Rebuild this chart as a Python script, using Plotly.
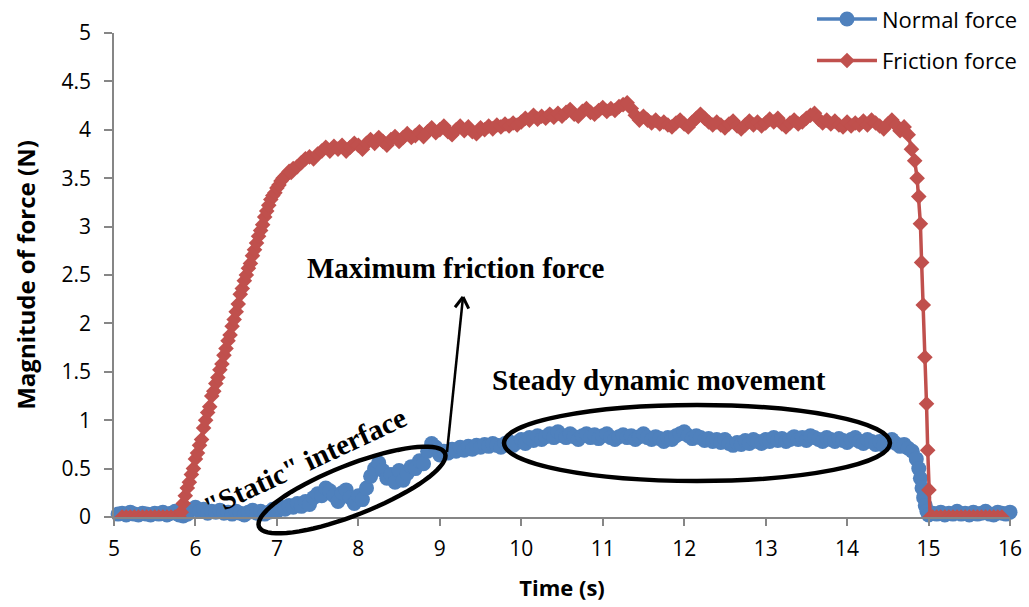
import numpy as np
import plotly.graph_objects as go

# ---------------- data ----------------
# Friction force (N)
fric_idle_start = 5.10          # flat segment before loading, 0.05 s steps
fric_idle = [0.00, 0.00, 0.00, 0.00, 0.00, 0.00, 0.00,
             0.00, 0.00, 0.00, 0.00, 0.00, 0.00, 0.00]

fric_rise_start = 5.80          # loading ramp, 0.025 s steps
fric_rise = [0.00, 0.05, 0.14, 0.22, 0.30, 0.36, 0.44, 0.50,
             0.60, 0.66, 0.74, 0.80, 0.92, 1.00, 1.08, 1.14,
             1.25, 1.30, 1.38, 1.44, 1.52, 1.58, 1.67, 1.74,
             1.82, 1.88, 1.97, 2.04, 2.12, 2.20, 2.30, 2.36,
             2.44, 2.50, 2.57, 2.62, 2.70, 2.76, 2.83, 2.90,
             2.96, 3.02, 3.10, 3.16, 3.22, 3.28, 3.32, 3.35,
             3.40, 3.43, 3.47, 3.50, 3.52, 3.54, 3.57, 3.56, 3.60]

fric_slide_start = 7.25         # sliding plateau, 0.05 s steps
fric_slide = [
    # 7.25 - 7.95
    3.62, 3.66, 3.70, 3.72, 3.70, 3.75, 3.78, 3.82, 3.78, 3.83, 3.80, 3.84, 3.78, 3.82, 3.86,
    # 8.00 - 8.95
    3.84, 3.80, 3.86, 3.90, 3.86, 3.92, 3.88, 3.84, 3.90, 3.93,
    3.88, 3.92, 3.96, 3.92, 3.94, 3.98, 3.93, 3.98, 4.02, 3.97,
    # 9.00 - 9.95
    4.00, 4.04, 3.98, 3.95, 4.00, 4.04, 3.99, 4.03, 3.98, 3.96,
    4.02, 4.00, 4.04, 4.01, 4.05, 4.03, 4.06, 4.04, 4.07, 4.05,
    # 10.00 - 10.95
    4.08, 4.12, 4.10, 4.15, 4.11, 4.14, 4.12, 4.16, 4.13, 4.17,
    4.14, 4.18, 4.21, 4.16, 4.14, 4.19, 4.22, 4.18, 4.16, 4.20,
    # 11.00 - 11.95
    4.23, 4.19, 4.22, 4.20, 4.24, 4.26, 4.28, 4.22, 4.15, 4.10,
    4.14, 4.10, 4.07, 4.10, 4.06, 4.08, 4.05, 4.03, 4.07, 4.10,
    # 12.00 - 12.95
    4.06, 4.03, 4.08, 4.12, 4.16, 4.12, 4.08, 4.05, 4.08, 4.05,
    4.02, 4.06, 4.09, 4.04, 4.01, 4.05, 4.09, 4.05, 4.08, 4.04,
    # 13.00 - 13.95
    4.07, 4.11, 4.08, 4.12, 4.06, 4.03, 4.07, 4.10, 4.06, 4.08,
    4.12, 4.15, 4.17, 4.11, 4.07, 4.10, 4.06, 4.09, 4.05, 4.03,
    # 14.00 - 14.75
    4.08, 4.04, 4.07, 4.05, 4.09, 4.05, 4.10, 4.07, 4.04, 4.01,
    4.06, 4.10, 4.05, 3.99, 4.03, 3.95,
]

fric_drop_t = [14.79, 14.83, 14.86, 14.88, 14.90, 14.915,
               14.935, 14.955, 14.975, 14.99, 15.005, 15.02]
fric_drop = [3.80, 3.68, 3.50, 3.31, 3.03, 2.63,
             2.19, 1.65, 1.17, 0.69, 0.28, 0.00]

fric_rest_start = 15.05         # unloaded, 0.05 s steps
fric_rest = [0.00, 0.00, 0.00, 0.00, 0.00, 0.00, 0.00, 0.00, 0.00,
             0.00, 0.00, 0.00, 0.00, 0.00, 0.00, 0.00, 0.00, 0.00]

# Normal force (N)
norm_main_start = 5.05          # 0.05 s steps
norm_main = [
    # 5.05 - 5.95
    0.03, 0.04, 0.02, 0.05, 0.03, 0.02, 0.04, 0.03, 0.02, 0.04,
    0.03, 0.05, 0.02, 0.04, 0.06, 0.02, 0.01, 0.03, 0.08,
    # 6.00 - 6.95
    0.10, 0.06, 0.08, 0.04, 0.06, 0.05, 0.07, 0.04, 0.05, 0.03,
    0.06, 0.04, 0.02, 0.05, 0.07, 0.04, 0.06, 0.03, 0.05, 0.08,
    # 7.00 - 7.95
    0.06, 0.10, 0.08, 0.12, 0.10, 0.14, 0.11, 0.16, 0.13, 0.20,
    0.24, 0.22, 0.30, 0.27, 0.22, 0.16, 0.25, 0.28, 0.20, 0.14,
    # 8.00 - 8.95
    0.22, 0.18, 0.30, 0.42, 0.50, 0.56, 0.48, 0.40, 0.44, 0.36,
    0.48, 0.38, 0.45, 0.52, 0.50, 0.58, 0.55, 0.68, 0.76, 0.72,
    # 9.00 - 9.95
    0.64, 0.68, 0.66, 0.70, 0.68, 0.72, 0.69, 0.73, 0.70, 0.74,
    0.72, 0.75, 0.73, 0.76, 0.74, 0.72, 0.76, 0.78, 0.74, 0.77,
    # 10.00 - 10.95
    0.80, 0.76, 0.82, 0.79, 0.84, 0.80, 0.83, 0.86, 0.82, 0.88,
    0.84, 0.82, 0.86, 0.83, 0.80, 0.84, 0.86, 0.82, 0.85, 0.81,
    # 11.00 - 11.95
    0.84, 0.86, 0.82, 0.80, 0.83, 0.85, 0.82, 0.84, 0.80, 0.83,
    0.86, 0.82, 0.80, 0.83, 0.81, 0.78, 0.82, 0.80, 0.84, 0.86,
    # 12.00 - 12.95
    0.88, 0.84, 0.81, 0.84, 0.82, 0.79, 0.81, 0.78, 0.80, 0.77,
    0.80, 0.76, 0.74, 0.77, 0.75, 0.79, 0.76, 0.80, 0.78, 0.76,
    # 13.00 - 13.95
    0.80, 0.78, 0.82, 0.79, 0.81, 0.78, 0.80, 0.83, 0.80, 0.82,
    0.79, 0.84, 0.82, 0.80, 0.78, 0.82, 0.80, 0.78, 0.81, 0.79,
    # 14.00 - 14.80
    0.77, 0.80, 0.82, 0.78, 0.76, 0.80, 0.78, 0.75, 0.78, 0.74,
    0.77, 0.80, 0.76, 0.73, 0.75, 0.71, 0.68,
]

norm_drop_t = [14.85, 14.88, 14.90, 14.92, 14.94, 14.96, 14.98, 15.00]
norm_drop = [0.60, 0.50, 0.40, 0.30, 0.20, 0.12, 0.06, 0.02]

norm_rest_start = 15.05
norm_rest = [0.04, 0.03, 0.05, 0.02, 0.04, 0.03, 0.06, 0.03, 0.04, 0.02,
             0.05, 0.03, 0.04, 0.06, 0.03, 0.02, 0.05, 0.04, 0.03, 0.05]

x_ticks = [5, 6, 7, 8, 9, 10, 11, 12, 13, 14, 15, 16]
y_ticks = [0, 0.5, 1, 1.5, 2, 2.5, 3, 3.5, 4, 4.5, 5]


def sampled(start, step, values):
    return list(np.round(start + step * np.arange(len(values)), 4))


fric_t = (sampled(fric_idle_start, 0.05, fric_idle)
          + sampled(fric_rise_start, 0.025, fric_rise)
          + sampled(fric_slide_start, 0.05, fric_slide)
          + fric_drop_t
          + sampled(fric_rest_start, 0.05, fric_rest))
fric_y = fric_idle + fric_rise + fric_slide + fric_drop + fric_rest

norm_t = (sampled(norm_main_start, 0.05, norm_main)
          + norm_drop_t
          + sampled(norm_rest_start, 0.05, norm_rest))
norm_y = norm_main + norm_drop + norm_rest

# ---------------- figure ----------------
BLUE = "#4F81BD"
RED = "#C0504D"
AXIS = "#868686"
SANS = "'Open Sans', Lato, sans-serif"
SERIF = "'Liberation Serif', 'Times New Roman', serif"

fig = go.Figure()
fig.add_trace(go.Scatter(
    x=norm_t, y=norm_y, name="Normal force", mode="lines+markers",
    line=dict(color=BLUE, width=3.5),
    marker=dict(symbol="circle", size=15, color=BLUE),
    cliponaxis=False, legendgroup="n",
))
fig.add_trace(go.Scatter(
    x=fric_t, y=fric_y, name="Friction force", mode="lines+markers",
    line=dict(color=RED, width=3.5),
    marker=dict(symbol="diamond", size=12, color=RED),
    cliponaxis=True, legendgroup="f",
))

# plot-area geometry (pixels) used to place the hand-drawn callouts
W, H = 1029, 607
ML, MR, MT, MB = 114, 19, 33, 90
PW, PH = W - ML - MR, H - MT - MB


def to_paper(px, py):
    return (px - ML) / PW, (H - MB - py) / PH


shapes = []

# ellipse around the steady sliding region
sx0, sy0 = to_paper(504, 481)
sx1, sy1 = to_paper(890, 405)
shapes.append(dict(type="circle", xref="paper", yref="paper",
                   x0=sx0, y0=sy0, x1=sx1, y1=sy1,
                   line=dict(color="black", width=4.5)))

# tilted ellipse around the static-interface region
cx, cy, ra, rb, tilt = 352, 490, 100, 25, np.radians(21.5)
phi = np.linspace(0, 2 * np.pi, 73)
ex = cx + ra * np.cos(phi) * np.cos(tilt) - rb * np.sin(phi) * np.sin(tilt)
ey = cy - (ra * np.cos(phi) * np.sin(tilt) + rb * np.sin(phi) * np.cos(tilt))
pts = [to_paper(a, b) for a, b in zip(ex, ey)]
path = "M " + " L ".join(f"{a:.5f},{b:.5f}" for a, b in pts) + " Z"
shapes.append(dict(type="path", xref="paper", yref="paper", path=path,
                   line=dict(color="black", width=4.5)))

# arrow pointing up to the maximum-friction label
tail = np.array([447.0, 452.0])
tip = np.array([463.0, 297.0])
shapes.append(dict(type="line", xref="paper", yref="paper",
                   x0=to_paper(*tail)[0], y0=to_paper(*tail)[1],
                   x1=to_paper(*tip)[0], y1=to_paper(*tip)[1],
                   line=dict(color="black", width=2.5)))
back = (tail - tip) / np.linalg.norm(tail - tip)
for ang in (np.radians(32), np.radians(-32)):
    rot = np.array([[np.cos(ang), -np.sin(ang)], [np.sin(ang), np.cos(ang)]])
    arm = tip + 13 * rot @ back
    shapes.append(dict(type="line", xref="paper", yref="paper",
                       x0=to_paper(*tip)[0], y0=to_paper(*tip)[1],
                       x1=to_paper(*arm)[0], y1=to_paper(*arm)[1],
                       line=dict(color="black", width=3)))

annotations = []
for text, (px, py), angle in [
    ("Maximum friction force", (456, 268), 0),
    ("Steady dynamic movement", (659, 380), 0),
    ('"Static" interface', (305, 462), -25),
]:
    ax_, ay_ = to_paper(px, py)
    annotations.append(dict(
        text="<b>" + text + "</b>", x=ax_, y=ay_, xref="paper", yref="paper",
        xanchor="center", yanchor="middle", showarrow=False,
        textangle=angle, font=dict(family=SERIF, size=29, color="black"),
    ))

fig.update_layout(
    width=W, height=H,
    margin=dict(l=ML, r=MR, t=MT, b=MB, autoexpand=False),
    paper_bgcolor="white", plot_bgcolor="white",
    font=dict(family=SANS, size=21, color="black"),
    shapes=shapes, annotations=annotations,
    showlegend=True,
    legend=dict(x=0.779, y=1.072, xanchor="left", yanchor="top",
                font=dict(family=SANS, size=22, color="black"),
                bgcolor="rgba(0,0,0,0)", itemwidth=60,
                traceorder="grouped", tracegroupgap=10),
    xaxis=dict(
        range=[5, 16], tickvals=x_ticks, showgrid=False, zeroline=False,
        showline=True, linecolor=AXIS, linewidth=1.5,
        ticks="outside", ticklen=7, tickcolor=AXIS, tickwidth=1.5,
        tickfont=dict(family=SANS, size=21), ticklabelstandoff=5,
        title=dict(text="<b>Time (s)</b>", font=dict(family=SANS, size=22),
                   standoff=20),
    ),
    yaxis=dict(
        range=[0, 5], tickvals=y_ticks, showgrid=False, zeroline=False,
        showline=True, linecolor=AXIS, linewidth=1.5,
        ticks="outside", ticklen=8, tickcolor=AXIS, tickwidth=1.5,
        tickfont=dict(family=SANS, size=21), ticklabelstandoff=9,
        title=dict(text="<b>Magnitude of force (N)</b>",
                   font=dict(family=SANS, size=24), standoff=19),
    ),
)

fig.write_html("out.html")
